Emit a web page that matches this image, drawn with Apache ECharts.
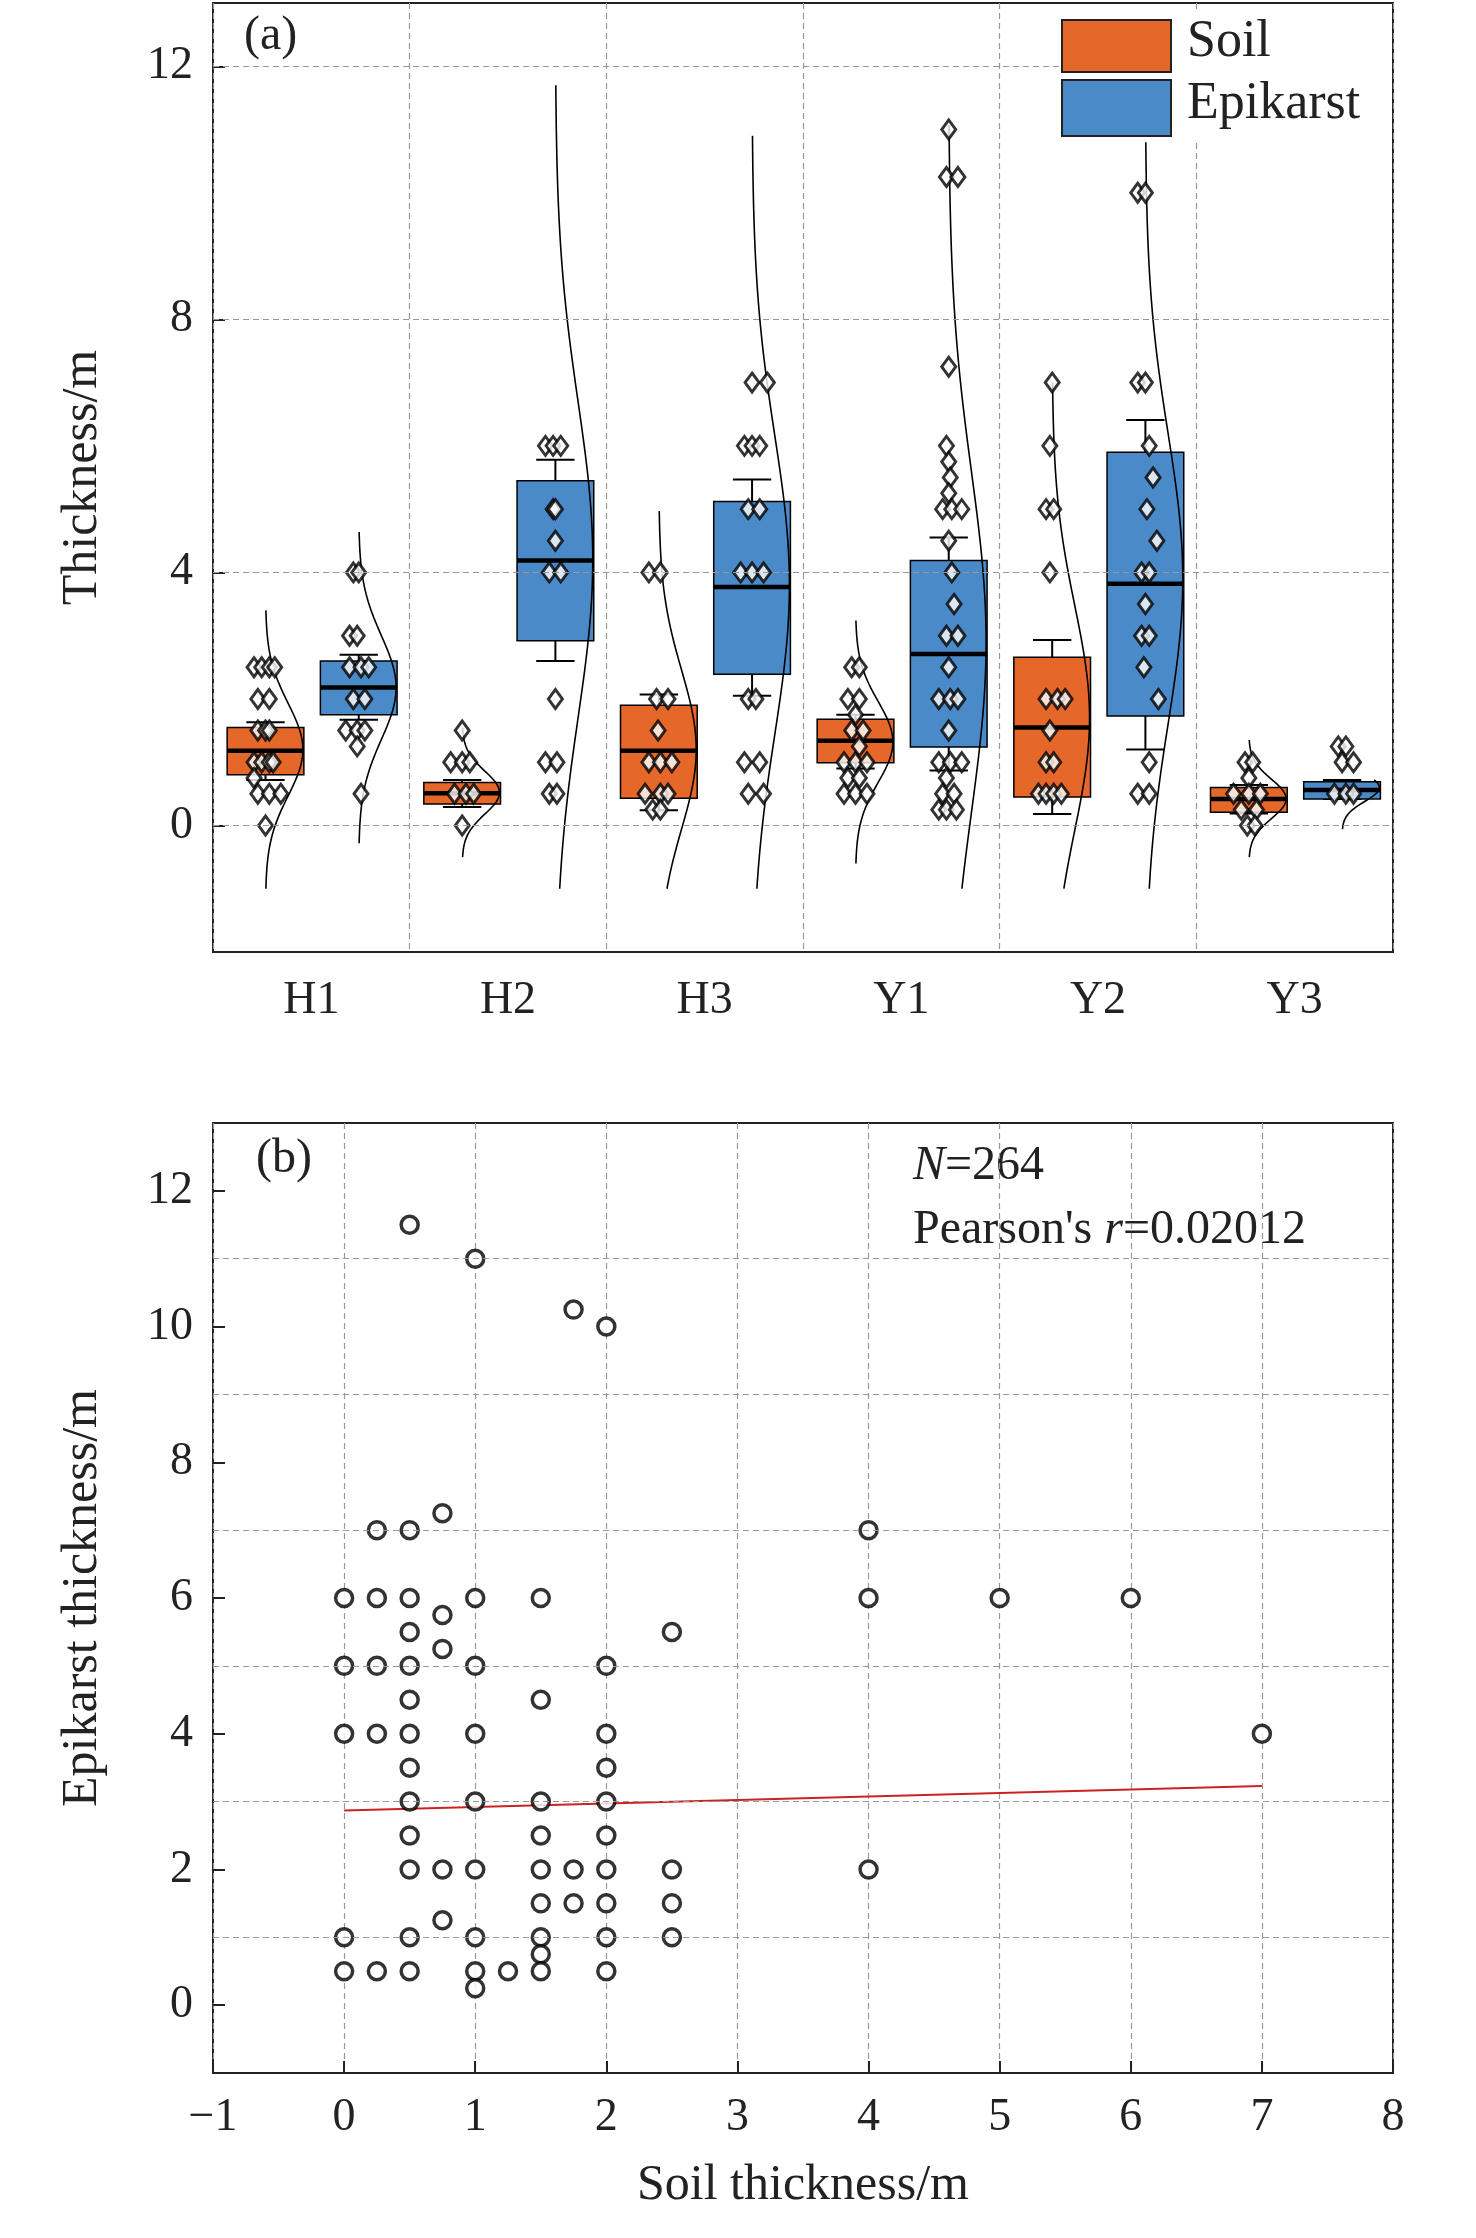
<!DOCTYPE html>
<html>
<head>
<meta charset="utf-8">
<script src="https://cdn.jsdelivr.net/npm/echarts@6/dist/echarts.min.js"></script>
<style>html,body{margin:0;padding:0;background:#fff}#chart{width:1476px;height:2238px}</style>
</head>
<body>
<div id="chart"></div>
<script>
var FONT = '"Liberation Serif", "DejaVu Serif", serif';
var SOIL = '#E5682A', EPI = '#4A8AC8';

/*********** (a) box data ***********/
var sites = ['H1', 'H2', 'H3', 'Y1', 'Y2', 'Y3'];
// [q1, median, q3, lowCap, highCap]
var soilBox = [
    [0.80, 1.18, 1.55, 0.72, 1.63],
    [0.34, 0.51, 0.68, 0.29, 0.72],
    [0.43, 1.18, 1.90, 0.24, 2.07],
    [0.99, 1.34, 1.68, 0.90, 1.75],
    [0.45, 1.55, 2.66, 0.18, 2.93],
    [0.21, 0.42, 0.60, 0.19, 0.64]
];
var epiBox = [
    [1.75, 2.18, 2.60, 1.67, 2.70],
    [2.92, 4.19, 5.45, 2.60, 5.78],
    [2.39, 3.77, 5.12, 2.05, 5.47],
    [1.24, 2.71, 4.19, 0.87, 4.55],
    [1.73, 3.82, 5.90, 1.20, 6.41],
    [0.42, 0.56, 0.69, 0.42, 0.72]
];
// normal curve: [mean, sd, lo, hi]
var soilCurve = [
    [1.20, 0.73, -1.0, 3.4], [0.52, 0.34, -0.5, 1.55], [1.20, 1.26, -1.0, 4.97],
    [1.32, 0.64, -0.6, 3.24], [1.70, 1.77, -1.0, 7.0], [0.42, 0.31, -0.5, 1.35]
];
var epiCurve = [
    [2.18, 0.82, -0.28, 4.64], [4.20, 2.50, -1.0, 11.7], [3.80, 2.37, -1.0, 10.9],
    [2.90, 2.70, -1.0, 11.07], [3.90, 2.30, -1.0, 10.8], [0.60, 0.22, -0.06, 0.72]
];
// raw points: [jitter (px in 257 per site), value]
var soilPts = [
    [[-15,2.5],[-5,2.5],[5,2.5],[12,2.5],[-10,2],[5,2],[-10,1.5],[0,1.5],[5,1.5],[-15,1],[-5,1],[5,1],[10,1],[-15,0.75],[-10,0.5],[5,0.5],[20,0.5],[0,0]],
    [[0,1.5],[-15,1],[0,1],[10,1],[-10,0.5],[5,0.5],[15,0.5],[0,0]],
    [[-13,4],[2,4],[-3,2],[12,2],[-1,1.5],[-13,1],[2,1],[17,1],[-18,0.5],[2,0.5],[12,0.5],[-8,0.25],[2,0.25]],
    [[-5,2.5],[5,2.5],[-10,2],[5,2],[0,1.75],[-5,1.5],[10,1.5],[5,1.25],[-15,1],[0,1],[15,1],[-10,0.75],[5,0.75],[-15,0.5],[0,0.5],[15,0.5]],
    [[0,7],[-3,6],[-8,5],[2,5],[-3,4],[-8,2],[7,2],[17,2],[-3,1.5],[-8,1],[2,1],[-18,0.5],[-8,0.5],[2,0.5],[12,0.5]],
    [[-5,1],[5,1],[0,0.75],[-20,0.5],[0,0.5],[15,0.5],[-10,0.25],[10,0.25],[-2,0],[8,0]]
];
var epiPts = [
    [[-7,4],[0,4],[-12,3],[-2,3],[-12,2.5],[3,2.5],[13,2.5],[-7,2],[8,2],[-17,1.5],[-2,1.5],[8,1.5],[-2,1.25],[3,0.5]],
    [[-13,6],[-3,6],[7,6],[-3,5],[0,5],[0,4.5],[-8,4],[7,4],[0,2],[-13,1],[2,1],[-8,0.5],[2,0.5]],
    [[0,7],[20,7],[-10,6],[0,6],[10,6],[-5,5],[10,5],[-15,4],[0,4],[15,4],[-5,2],[5,2],[-10,1],[10,1],[-5,0.5],[15,0.5]],
    [[0,11],[-3,10.25],[12,10.25],[0,7.25],[-3,6],[0,5.75],[2,5.5],[0,5.25],[-8,5],[4,5],[17,5],[0,4.5],[4,4],[7,3.5],[-3,3],[12,3],[0,2.5],[-13,2],[2,2],[12,2],[0,1.5],[-13,1],[2,1],[17,1],[-3,0.75],[-8,0.5],[7,0.5],[-13,0.25],[-3,0.25],[10,0.25]],
    [[-10,10],[0,10],[-10,7],[0,7],[5,6],[10,5.5],[2,5],[15,4.5],[-5,4],[5,4],[0,3.5],[-5,3],[5,3],[-2,2.5],[17,2],[5,1],[-10,0.5],[5,0.5]],
    [[-5,1.25],[5,1.25],[0,1],[15,1],[-10,0.5],[5,0.5],[15,0.5]]
];

/*********** (b) scatter data ***********/
var soilThick = [0.5, 1, 1.75, 2, 0.25, 0.5, 0.75,
    0, 0.25, 0.5, 1, 1.5, 4, 5, 6, 0.75, 0.5, 2.5, 0.75,
    0, 0.25, 0.5, 1, 2, 0.5, 1.5,
    0, 0.25, 0.5, 1, 2, 7, 0.5, 2,
    0.5, 1, 1.5, 2, 0.5, 1.5, 2,
    0.5, 0.75, 1, 1.5, 1.75, 2, 2.5, 4,
    1.5, 1.75, 2, 2.5, 0.75,
    0, 0.5, 1, 1.5, 2, 2.5, 1.5,
    0, 0.25, 0.5, 1, 1.25, 1.5, 2, 1, 4];
var epiThick = [11.5, 11, 10.25, 10, 7, 7, 7.25,
    6, 6, 6, 6, 6, 6, 6, 6, 5.75, 5.5, 5.5, 5.25,
    5, 5, 5, 5, 5, 4.5, 4.5,
    4, 4, 4, 4, 4, 4, 3.5, 3.5,
    3, 3, 3, 3, 2.5, 2.5, 2.5,
    2, 2, 2, 2, 2, 2, 2, 2,
    1.5, 1.5, 1.5, 1.5, 1.25,
    1, 1, 1, 1, 1, 1, 0.75,
    0.5, 0.5, 0.5, 0.5, 0.5, 0.5, 0.5, 0.25, 7];
var fitLine = [[0, 2.87], [7, 3.23]];

/*********** build ***********/
var OFFSET_SOIL = -0.233, OFFSET_EPI = 0.241, HALF_W = 0.195, JITTER = 257, BULGE = 0.19;

function boxData(arr, off) {
    return arr.map(function (b, i) { return [i + 0.5 + off].concat(b); });
}
function pointData(arr, off) {
    var out = [];
    arr.forEach(function (g, i) {
        g.forEach(function (p) { out.push([i + 0.5 + off + p[0] / JITTER, p[1]]); });
    });
    return out;
}
function curveSeries(arr, off) {
    return arr.map(function (c, i) {
        var pts = [], n = 80;
        for (var k = 0; k <= n; k++) {
            var y = c[2] + (c[3] - c[2]) * k / n;
            var z = (y - c[0]) / c[1];
            pts.push([i + 0.5 + off + BULGE * Math.exp(-z * z / 2), y]);
        }
        return {
            type: 'line', xAxisIndex: 1, yAxisIndex: 0, data: pts, symbol: 'none',
            lineStyle: { color: '#000', width: 1.6 }, z: 3, silent: true
        };
    });
}
function renderBox(color) {
    return function (params, api) {
        var x = api.value(0);
        var q1 = api.coord([x, api.value(1)]), md = api.coord([x, api.value(2)]),
            q3 = api.coord([x, api.value(3)]), lo = api.coord([x, api.value(4)]),
            hi = api.coord([x, api.value(5)]);
        var l = api.coord([x - HALF_W, 0])[0], r = api.coord([x + HALF_W, 0])[0];
        var cx = q1[0], cw = (r - l) * 0.25;
        var ls = { stroke: '#000', lineWidth: 2 };
        return {
            type: 'group', children: [
                { type: 'line', shape: { x1: cx, y1: q3[1], x2: cx, y2: hi[1] }, style: ls },
                { type: 'line', shape: { x1: cx, y1: q1[1], x2: cx, y2: lo[1] }, style: ls },
                { type: 'line', shape: { x1: cx - cw, y1: hi[1], x2: cx + cw, y2: hi[1] }, style: ls },
                { type: 'line', shape: { x1: cx - cw, y1: lo[1], x2: cx + cw, y2: lo[1] }, style: ls },
                { type: 'rect', shape: { x: l, y: q3[1], width: r - l, height: q1[1] - q3[1] },
                  style: { fill: color, stroke: '#000', lineWidth: 1.5 } },
                { type: 'line', shape: { x1: l, y1: md[1], x2: r, y2: md[1] }, style: { stroke: '#000', lineWidth: 4.5 } }
            ]
        };
    };
}
function hLines(vals) {
    return {
        silent: true, symbol: 'none', label: { show: false },
        lineStyle: { color: '#999', type: [6, 4], width: 1.2 },
        data: vals.map(function (v) { return { yAxis: v }; })
    };
}
function minus(v) { return String(v).replace('-', '\u2212'); }

var labelStyle = { color: '#222', fontFamily: FONT, fontSize: 46, formatter: minus };
var nameStyle = { color: '#222', fontFamily: FONT, fontSize: 50 };
var frame = { show: true, borderColor: '#222', borderWidth: 2, backgroundColor: 'transparent' };
var tickIn = { inside: true, length: 12, lineStyle: { color: '#222', width: 2 } };
var noLine = { show: false, onZero: false };

var series = [
    { type: 'custom', xAxisIndex: 1, yAxisIndex: 0, data: boxData(soilBox, OFFSET_SOIL), renderItem: renderBox(SOIL), z: 2,
      markLine: hLines([0, 4, 8, 12]) },
    { type: 'custom', xAxisIndex: 1, yAxisIndex: 0, data: boxData(epiBox, OFFSET_EPI), renderItem: renderBox(EPI), z: 2 }
].concat(curveSeries(soilCurve, OFFSET_SOIL), curveSeries(epiCurve, OFFSET_EPI), [
    { type: 'scatter', xAxisIndex: 1, yAxisIndex: 0, data: pointData(soilPts, OFFSET_SOIL), symbol: 'diamond', symbolSize: [14, 19],
      itemStyle: { color: '#fff', borderColor: '#000', borderWidth: 3 }, z: 4 },
    { type: 'scatter', xAxisIndex: 1, yAxisIndex: 0, data: pointData(epiPts, OFFSET_EPI), symbol: 'diamond', symbolSize: [14, 19],
      itemStyle: { color: '#fff', borderColor: '#000', borderWidth: 3 }, z: 4 },
    { type: 'scatter', xAxisIndex: 2, yAxisIndex: 1,
      data: soilThick.map(function (s, i) { return [s, epiThick[i]]; }),
      symbol: 'circle', symbolSize: 17, itemStyle: { color: '#fff', borderColor: '#000', borderWidth: 3.5 }, z: 4,
      markLine: hLines([1, 3, 5, 7, 9, 11]) },
    { type: 'line', xAxisIndex: 2, yAxisIndex: 1, data: fitLine, symbol: 'none',
      lineStyle: { color: '#CC2222', width: 2 }, z: 3 }
]);

var option = {
    backgroundColor: '#fff',
    animation: false,
    grid: [
        Object.assign({ left: 213, width: 1180, top: 3, height: 949 }, frame),
        Object.assign({ left: 213, width: 1180, top: 1123, height: 950 }, frame)
    ],
    xAxis: [
        { type: 'category', gridIndex: 0, data: sites, axisLine: noLine,
          axisTick: Object.assign({ alignWithLabel: true }, tickIn), axisLabel: Object.assign({}, labelStyle, { margin: 26 }),
          splitLine: { show: false } },
        { type: 'value', gridIndex: 0, min: 0, max: 6, interval: 1, axisLine: noLine, axisTick: { show: false },
          axisLabel: { show: false }, splitLine: { show: true, lineStyle: { color: '#999', type: [6, 4], width: 1.2 } } },
        { type: 'value', gridIndex: 1, min: -1, max: 8, interval: 1, axisLine: noLine, axisTick: tickIn,
          axisLabel: Object.assign({}, labelStyle, { margin: 22 }),
          splitLine: { show: true, lineStyle: { color: '#999', type: [6, 4], width: 1.2 } },
          name: 'Soil thickness/m', nameLocation: 'middle', nameGap: 88, nameTextStyle: nameStyle }
    ],
    yAxis: [
        { type: 'value', gridIndex: 0, min: -2, max: 13, interval: 1, axisLine: noLine,
          axisTick: Object.assign({ customValues: [0, 4, 8, 12] }, tickIn),
          axisLabel: Object.assign({}, labelStyle, { customValues: [0, 4, 8, 12], margin: 20 }),
          splitLine: { show: false },
          name: 'Thickness/m', nameLocation: 'middle', nameGap: 105, nameTextStyle: nameStyle },
        { type: 'value', gridIndex: 1, min: -1, max: 13, interval: 1, axisLine: noLine,
          axisTick: Object.assign({ customValues: [0, 2, 4, 6, 8, 10, 12] }, tickIn),
          axisLabel: Object.assign({}, labelStyle, { customValues: [0, 2, 4, 6, 8, 10, 12], margin: 20 }),
          splitLine: { show: false },
          name: 'Epikarst thickness/m', nameLocation: 'middle', nameGap: 105, nameTextStyle: nameStyle }
    ],
    graphic: [
        { type: 'text', left: 244, top: 12, style: { text: '(a)', font: '48px ' + FONT, fill: '#222' } },
        { type: 'text', left: 256, top: 1135, style: { text: '(b)', font: '48px ' + FONT, fill: '#222' } },
        { type: 'rect', left: 1060, top: 12, shape: { width: 330, height: 130 }, style: { fill: '#fff' }, z: 10 },
        { type: 'rect', left: 1061, top: 19, shape: { width: 109, height: 52 }, style: { fill: SOIL, stroke: '#222', lineWidth: 2 }, z: 11 },
        { type: 'rect', left: 1061, top: 79, shape: { width: 109, height: 56 }, style: { fill: EPI, stroke: '#222', lineWidth: 2 }, z: 11 },
        { type: 'text', left: 1187, top: 16, style: { text: 'Soil', font: '52px ' + FONT, fill: '#222' }, z: 11 },
        { type: 'text', left: 1187, top: 78, style: { text: 'Epikarst', font: '52px ' + FONT, fill: '#222' }, z: 11 },
        { type: 'text', left: 913, top: 1142, style: { rich: { i: { font: 'italic 48px ' + FONT, fill: '#222' }, n: { font: '48px ' + FONT, fill: '#222' } },
            text: '{i|N}{n|=264}' } },
        { type: 'text', left: 913, top: 1206, style: { rich: { i: { font: 'italic 48px ' + FONT, fill: '#222' }, n: { font: '48px ' + FONT, fill: '#222' } },
            text: "{n|Pearson's }{i|r}{n|=0.02012}" } }
    ],
    series: series
};

echarts.init(document.getElementById('chart')).setOption(option);
</script>
</body>
</html>
